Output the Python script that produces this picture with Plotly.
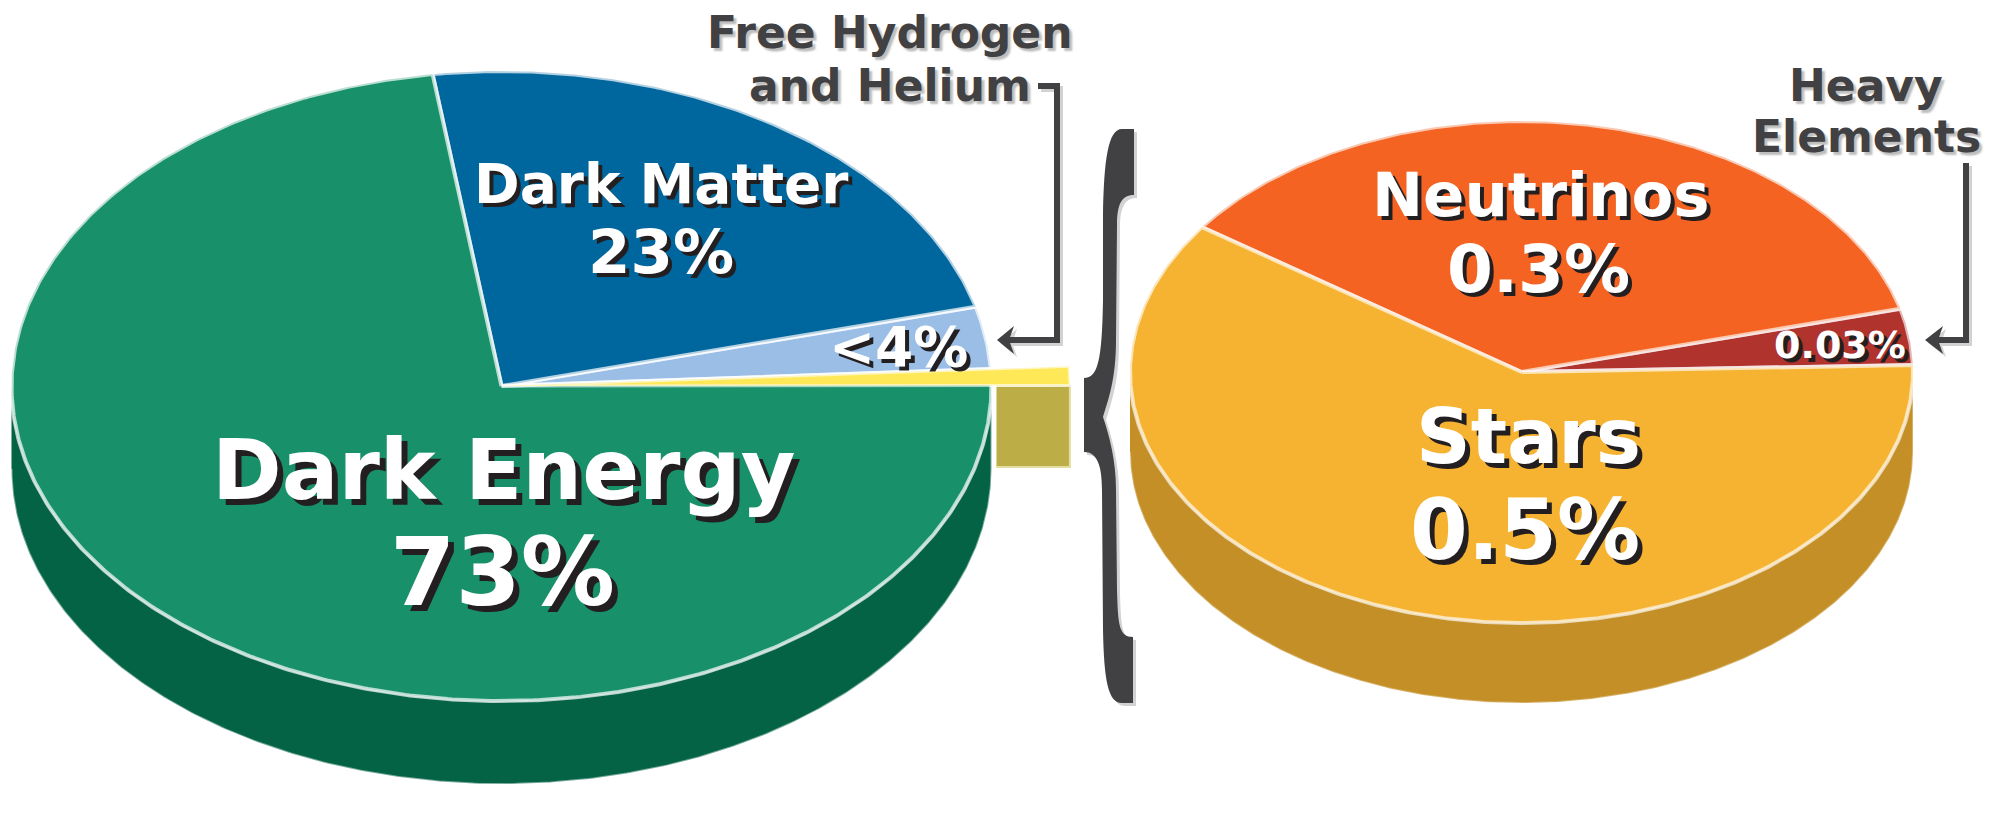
import re
import numpy as np
import plotly.graph_objects as go

# share of the left pie, counter clockwise from the right hand edge
left_names = ["Ordinary matter", "Free Hydrogen and Helium", "Dark Matter", "Dark Energy"]
left_values = [0.83, 3.17, 23, 73]
left_colors = ["#FFE857", "#9ABEE6", "#00669E", "#18906A"]

# right pie is the 0.83% sliver blown up
right_names = ["Heavy Elements", "Neutrinos", "Stars"]
right_values = [0.03, 0.3, 0.5]
right_colors = ["#B0332D", "#F46322", "#F5B331"]

DARK = "#414042"
SHADOW = "#231F20"
SOFT = "#D2D2D2"
FONT = "DejaVu Sans"


def arc(cx, cy, rx, ry, a0, a1):
    t = np.radians(np.linspace(a0, a1, max(int(abs(a1 - a0) * 2), 8)))
    return cx + rx * np.cos(t), cy - ry * np.sin(t)


def wedge(cx, cy, rx, ry, a0, a1):
    x, y = arc(cx, cy, rx, ry, a0, a1)
    return np.r_[cx, x, cx], np.r_[cy, y, cy]


def add_poly(fig, x, y, fill, line="rgba(255,255,255,0)", width=0):
    fig.add_trace(go.Scatter(x=x, y=y, mode="lines", fill="toself", fillcolor=fill,
                             line=dict(color=line, width=width), hoverinfo="skip"))


def add_wall(fig, cx, cy, rx, ry, depth, fill, line):
    x, y = arc(cx, cy, rx, ry, 180, 360)
    add_poly(fig, np.r_[x, x[::-1]], np.r_[y, y[::-1] + depth], fill, line, 2)


def add_pie(fig, values, colors, cx, cy, rx, ry, rot, rim):
    edges = rot + np.r_[0, np.cumsum(values)] / np.sum(values) * 360
    for i, col in enumerate(colors):
        x, y = wedge(cx, cy, rx, ry, edges[i], edges[i + 1])
        add_poly(fig, x, y, col, rim, 4)
    return edges


def label(fig, x, y, text, size, color="white", shadow=None):
    shadow = shadow or f"4px 4px 0 {SHADOW}"
    fig.add_annotation(x=x, y=y, text=text, showarrow=False, xanchor="center", yanchor="middle",
                       font=dict(family=FONT, size=size, color=color, weight=700, shadow=shadow))


def elbow(fig, xs, ys, head):
    for dx, col in ((3, SOFT), (0, DARK)):
        fig.add_trace(go.Scatter(x=[v + dx for v in xs], y=[v + dx for v in ys], mode="lines",
                                 line=dict(color=col, width=6), hoverinfo="skip"))
        add_poly(fig, [v + dx for v in head[0]], [v + dx for v in head[1]], col)


def shifted(path, d):
    return re.sub(r"(\d+),(\d+)", lambda m: f"{int(m[1]) + d},{int(m[2]) + d}", path)


fig = go.Figure()

# left pie
LX, LY, LRX, LRY, LD = 501.5, 386, 490, 315, 83
add_wall(fig, LX, LY, LRX, LRY, LD, "#046245", "rgba(255,255,255,0.45)")
OUT = 1.16  # how far the sliver sticks out
add_poly(fig, [LX + LRX + 5, LX + LRX * OUT, LX + LRX * OUT, LX + LRX + 5],
         [LY, LY, LY + LD - 2, LY + LD - 2], "#BDAD47", "#E4DCA0", 2)
edges = add_pie(fig, left_values[1:], left_colors[1:], LX, LY, LRX, LRY,
                0.1 + left_values[0] / sum(left_values) * 360, "rgba(255,255,255,0.7)")
sx, sy = wedge(LX, LY, LRX * OUT, LRY * OUT, 0.1, edges[0])
add_poly(fig, sx, sy, left_colors[0], "rgba(255,255,255,0.6)", 3)

# right pie
RX, RY, RRX, RRY, RD = 1521.5, 372, 391.5, 251, 80
add_wall(fig, RX, RY, RRX, RRY, RD, "#C48F27", "rgba(255,255,255,0.3)")
add_pie(fig, right_values, right_colors, RX, RY, RRX, RRY, 1.6, "rgba(255,255,255,0.65)")

# brace between the pies
brace = ("M1134,129 L1134,195 C1124,195 1117,200 1117,225 L1116,340 C1116,380 1108,400 1103,417 "
         "C1109,435 1116,460 1116,490 L1117,590 C1118,625 1119,637 1133,637 L1133,703 L1122,703 "
         "C1108,703 1104,680 1103,630 L1102,490 C1102,465 1097,452 1084,452 L1084,378 "
         "C1098,378 1102,360 1103,300 L1103,215 C1104,160 1108,129 1122,129 Z")
fig.add_shape(type="path", path=shifted(brace, 3), xref="x", yref="y", fillcolor=SOFT, line_width=0,
              layer="above")
fig.add_shape(type="path", path=brace, xref="x", yref="y", fillcolor=DARK, line_width=0,
              layer="above")

# pointer arrows
elbow(fig, [1038, 1057, 1057, 1008], [86, 86, 340, 340],
      ([997, 1014, 1009, 1014], [340, 326, 340, 354]))
elbow(fig, [1966, 1966, 1936], [163, 340, 340],
      ([1925, 1943, 1938, 1943], [340, 326, 340, 354]))

# slice texts
big = f"6px 6px 0 {SHADOW}"
mid = f"5px 5px 0 {SHADOW}"
soft = "3px 3px 2px #BDBDBD"
label(fig, 503, 470, "Dark Energy", 84, shadow=big)
label(fig, 502, 572, "73%", 94, shadow=big)
label(fig, 661, 184, "Dark Matter", 55)
label(fig, 661, 251, "23%", 61)
label(fig, 898, 347, "&lt;4%", 55)
label(fig, 1541, 194, "Neutrinos", 61)
label(fig, 1538, 269, "0.3%", 66)
label(fig, 1840, 345, "0.03%", 38)
label(fig, 1528, 436, "Stars", 76, shadow=mid)
label(fig, 1525, 530, "0.5%", 83, shadow=mid)
label(fig, 890, 32, "Free Hydrogen", 44, DARK, soft)
label(fig, 890, 85, "and Helium", 44, DARK, soft)
label(fig, 1866, 85, "Heavy", 44, DARK, soft)
label(fig, 1866, 136, "Elements", 44, DARK, soft)

fig.update_xaxes(range=[0, 1993], visible=False)
fig.update_yaxes(range=[830, 0], visible=False)
fig.update_layout(width=1993, height=830, margin=dict(l=0, r=0, t=0, b=0), showlegend=False,
                  paper_bgcolor="white", plot_bgcolor="white")

fig.write_html("out.html", config={"displayModeBar": False},
               post_script="document.body.style.margin='0';")
